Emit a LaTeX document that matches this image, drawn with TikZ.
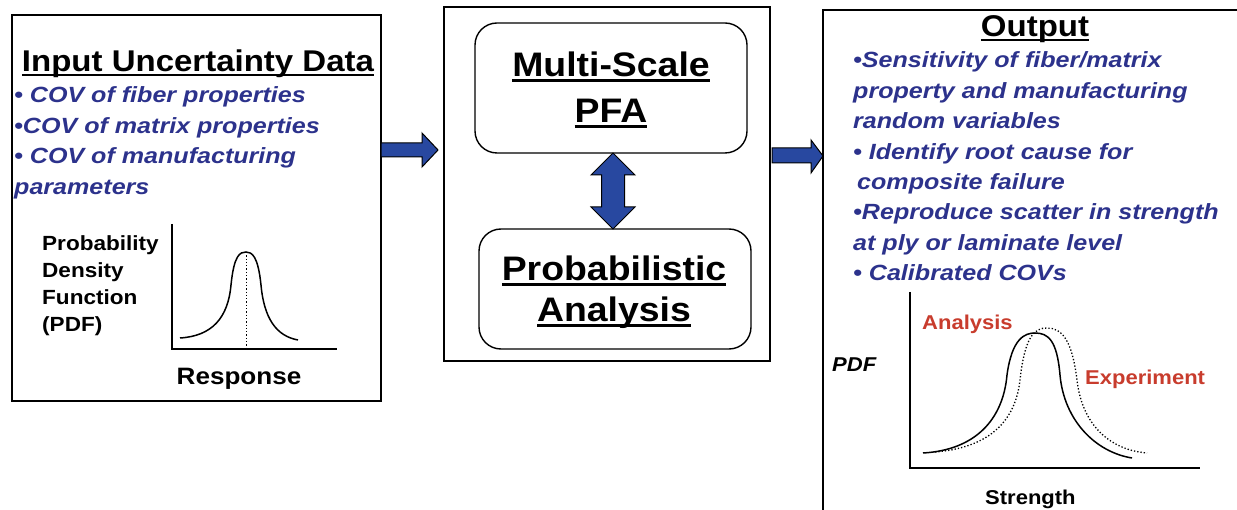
\documentclass[tikz,border=0pt]{standalone}
\usepackage{fontspec}
\setmainfont{Liberation Sans}
\usetikzlibrary{calc}
\definecolor{txtblue}{RGB}{44,50,140}
\definecolor{arrblue}{RGB}{40,72,160}
\definecolor{lblred}{RGB}{200,60,45}
\newcommand\sx[1]{\scalebox{1.1}[1]{#1}}
\newcommand\sxb[1]{\scalebox{1.14}[1]{#1}}
\newcommand\ulx[1]{\setbox0=\hbox{#1}\leavevmode\rlap{\rule[-0.14em]{\wd0}{0.075em}}\box0}
\tikzset{
  frame/.style={draw=black, line width=1.4pt},
  rbox/.style={draw=black, line width=1.4pt, rounded corners=22pt},
  txt/.style={inner sep=0pt, anchor=base west},
  bl/.style={txt, text=txtblue, font=\fontsize{22}{26}\selectfont\bfseries\itshape},
  lbl/.style={txt, font=\fontsize{20.5}{24}\selectfont\bfseries},
  big/.style={inner sep=0pt, anchor=base, font=\fontsize{34}{40}\selectfont\bfseries},
  ttl/.style={inner sep=0pt, anchor=base, font=\fontsize{30}{36}\selectfont\bfseries},
  redl/.style={txt, text=lblred, font=\fontsize{20}{24}\selectfont\bfseries},
  blockarrow/.style={draw=black, line width=1pt, fill=arrblue, line join=miter},
  axis/.style={draw=black, line width=2pt},
  curve/.style={draw=black, line width=1.5pt},
  dcurve/.style={draw=black, line width=1.3pt, dotted}
}
\begin{document}
\begin{tikzpicture}[x=1pt,y=-1pt]
\useasboundingbox (0,0) rectangle (1237,510);
\clip (0,0) rectangle (1237,510);
% frames
\draw[frame] (12,15) rectangle (381,401);
\draw[frame] (444,7) rectangle (770,361);
\draw[frame] (823,10) rectangle (1260,540);
\draw[rbox] (475,23) rectangle (747,153);
\draw[rbox] (479,229) rectangle (751,349);
% left box text
\node[ttl] (intitle) at (198,72) {\sx{\ulx{Input Uncertainty Data}}};
\foreach \t [count=\i] in {{• COV of fiber properties},{•COV of matrix properties},{• COV of manufacturing},{parameters}}
  \node[bl] (lb\i) at ({14},{103+30.4*(\i-1)}) {\sxb{\t}};
\foreach \t [count=\i] in {Probability,Density,Function,(PDF)}
  \node[lbl] (pd\i) at ({42},{251+27*(\i-1)}) {\sx{\t}};
\node[lbl, font=\fontsize{23.7}{28}\selectfont\bfseries, anchor=base] (resp) at (239,385) {\sx{Response}};
% left graph
\draw[axis] (172,224) -- (172,349) -- (337,349);
\draw[curve] (180,338) .. controls (212,336) and (228,318) .. (231,285)
  .. controls (234,255) and (240,252) .. (246,252)
  .. controls (252,252) and (258,256) .. (261,285)
  .. controls (264,318) and (276,336) .. (298,340);
\draw[dcurve, line width=1pt] (246,252) -- (246,349);
% middle
\node[big] (ms1) at (611,77) {\sx{\ulx{Multi-Scale}}};
\node[big] (ms2) at (611,123) {\sx{\ulx{PFA}}};
\node[big] (pa1) at (614,281) {\sx{\ulx{Probabilistic}}};
\node[big] (pa2) at (614,322) {\sx{\ulx{Analysis}}};
% block arrows
\draw[blockarrow] (381,143) -- (422,143) -- (422,133) -- (438,150) -- (422,167) -- (422,157) -- (381,157) -- cycle;
\draw[blockarrow] (772,148) -- (811,148) -- (811,140) -- (823,156) -- (811,173) -- (811,163) -- (772,163) -- cycle;
\draw[blockarrow] (613,153) -- (635,175) -- (624.5,175) -- (624.5,207) -- (635,207) -- (613,229) -- (591,207) -- (601.5,207) -- (601.5,175) -- (591,175) -- cycle;
% right box
\node[ttl] (outtitle) at (1035,37) {\sx{\ulx{Output}}};
\node[bl] (rb1) at (853,68) {\sxb{•Sensitivity of fiber/matrix}};
\node[bl] (rb2) at (853,98.4) {\sxb{property and manufacturing}};
\node[bl] (rb3) at (853,128.8) {\sxb{random variables}};
\node[bl] (rb4) at (853,159.2) {\sxb{• Identify root cause for}};
\node[bl] (rb5) at (857,189.6) {\sxb{composite failure}};
\node[bl] (rb6) at (853,220) {\sxb{•Reproduce scatter in strength}};
\node[bl] (rb7) at (853,250.4) {\sxb{at ply or laminate level}};
\node[bl] (rb8) at (853,280.8) {\sxb{• Calibrated COVs}};
% right graph
\draw[axis] (910,292) -- (910,468) -- (1200,468);
\draw[curve] (923,453) .. controls (975,450) and (1003,420) .. (1007,375)
  .. controls (1012,338) and (1025,333) .. (1035,333)
  .. controls (1048,333) and (1057,340) .. (1060,375)
  .. controls (1064,420) and (1095,452) .. (1132,458);
\draw[dcurve] (935,452) .. controls (985,448) and (1015,425) .. (1020,380)
  .. controls (1025,335) and (1035,328) .. (1047,328)
  .. controls (1062,328) and (1072,340) .. (1077,380)
  .. controls (1082,425) and (1110,450) .. (1147,453);
\node[redl] (analysis) at (922,330) {\sx{Analysis}};
\node[redl] (experiment) at (1085,385) {\sx{Experiment}};
\node[txt, font=\fontsize{20}{24}\selectfont\bfseries\itshape] (pdf) at (832,372) {\sx{PDF}};
\node[txt, font=\fontsize{20}{24}\selectfont\bfseries] (strength) at (985,504.5) {\sx{Strength}};
\end{tikzpicture}
\end{document}
